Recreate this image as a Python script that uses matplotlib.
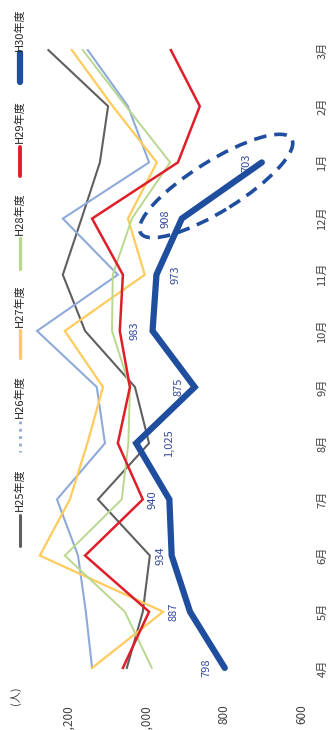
import matplotlib
matplotlib.use("Agg")
import matplotlib.pyplot as plt
from matplotlib.lines import Line2D
from matplotlib.patches import Ellipse
from matplotlib.transforms import ScaledTranslation

plt.rcParams['font.family'] = ['Noto Sans CJK JP', 'DejaVu Sans']

months = ['4月', '5月', '6月', '7月', '8月', '9月', '10月', '11月', '12月', '1月', '2月', '3月']
h25 = [1049, 1008, 990, 1123, 992, 1028, 1156, 1213, 1165, 1118, 1097, 1250]
h26 = [1138, 1154, 1174, 1228, 1105, 1126, 1279, 1072, 1213, 992, 1046, 1149]
h27 = [1138, 956, 1272, 1195, 1150, 1110, 1208, 1003, 1046, 972, 1085, 1190]
h28 = [985, 1054, 1208, 1062, 1045, 1041, 1087, 1085, 1036, 938, 1051, 1162]
h29 = [1059, 992, 1156, 1008, 1072, 1041, 1067, 1059, 1138, 918, 862, 936]
h30 = [798, 887, 934, 940, 1025, 875, 983, 973, 908, 703]

series = ['H25年度', 'H26年度', 'H27年度', 'H28年度', 'H29年度', 'H30年度']
colors = ['#5f5f5f', '#8eaadb', '#ffcb5c', '#b9d88f', '#e01e2a', '#1f4e9f']
widths = [1.5, 1.5, 1.6, 1.4, 1.8, 4.5]

W, H = 329, 730
fig = plt.figure(figsize=(W / 100, H / 100), dpi=100)
fig.patch.set_facecolor('white')

# chart is drawn turned on its side: value runs right-to-left, months bottom-to-top
ax = fig.add_axes([0, 34 / H, 302 / W, 674 / H])
ax.set_xlim(1374, 600)
ax.set_ylim(-0.5, 11.5)
for s in ax.spines.values():
    s.set_visible(False)

for data, c, lw in zip([h25, h26, h27, h28, h29], colors[:5], widths[:5]):
    ax.plot(data, range(len(data)), color=c, lw=lw, solid_joinstyle='miter')
ax.plot(h30, range(len(h30)), color=colors[5], lw=widths[5], solid_capstyle='round',
        solid_joinstyle='miter', zorder=5)

# data labels for H30
offsets = [-13, -12, -8, -12, 24, -12, -13, 13.5, -12, -11]
for i, (v, dx) in enumerate(zip(h30, offsets)):
    ax.annotate(f'{v:,}', (v, i), xytext=(dx, 0), textcoords='offset points',
                rotation=90, ha='center', va='center', fontsize=8, color='#34489c')

# dashed ellipse around Dec-Jan
tr = fig.dpi_scale_trans + ScaledTranslation(820, 8.58, ax.transData)
ax.add_patch(Ellipse((0, 0), 1.78, 0.5, angle=32, transform=tr, fill=False,
                     ec='#1f4e9f', lw=2.6, ls=(0, (3.5, 2.2)), zorder=6))

ax.yaxis.tick_right()
ax.set_yticks(range(12))
ax.set_yticklabels(months, rotation=90, va='center', fontsize=8, color='#404040')
ax.tick_params(axis='y', length=0, pad=11)
ax.set_xticks([600, 800, 1000, 1200])
ax.set_xticklabels(['600', '800', '1,000', '1,200'], rotation=90, fontsize=8.5,
                   color='#404040')
ax.tick_params(axis='x', length=0, pad=6)

# unit label
fig.text(15 / W, 1 - 696 / H, '(人)', rotation=90, ha='center', va='center',
         fontsize=8, color='#404040')

# legend, stacked vertically down the left edge
leg_text_y = [490, 397, 306, 214, 122, 30]
leg_line_y = [(515, 546), (421, 452), (330, 358), (238, 269), (147, 176), (53, 82)]
leg_styles = ['-', ':', '-', '-', '-', '-']
leg_lw = [2.2, 2.0, 2.4, 2.4, 2.8, 4.5]
for name, c, ty, (y0, y1), ls, lw in zip(series, colors, leg_text_y, leg_line_y,
                                         leg_styles, leg_lw):
    fig.add_artist(Line2D([20 / W, 20 / W], [1 - y0 / H, 1 - y1 / H], color=c,
                          lw=lw, ls=ls, solid_capstyle='round',
                          transform=fig.transFigure))
    fig.text(20 / W, 1 - ty / H, name, rotation=90, ha='center', va='center',
             fontsize=8, color='#262626')

fig.savefig('out.png', dpi=100, facecolor='white')
